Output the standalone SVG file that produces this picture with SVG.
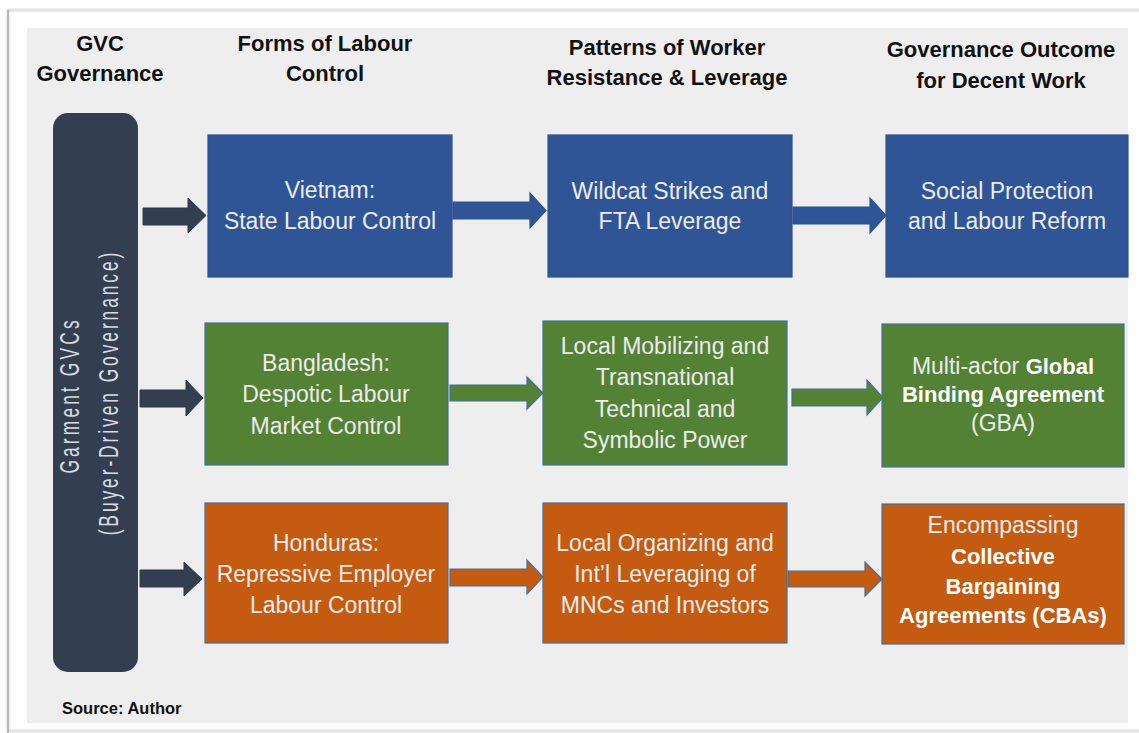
<svg xmlns="http://www.w3.org/2000/svg" width="1139" height="733" viewBox="0 0 1139 733">
  <defs>
    <style>
      .hdr { font-family: "Liberation Sans", Arial, sans-serif; font-weight: bold; font-size: 22px; fill: #111111; text-anchor: middle; }
      .lbl { font-family: "Liberation Sans", Arial, sans-serif; font-size: 23px; fill: #ececec; text-anchor: middle; }
      .lbl .b { font-weight: bold; font-size: 22px; fill: #ffffff; }
      .vt { font-family: "Liberation Sans", Arial, sans-serif; font-size: 28px; fill: #d7dbe1; text-anchor: middle; }
      .src { font-family: "Liberation Sans", Arial, sans-serif; font-weight: bold; font-size: 16.5px; fill: #111111; }
      .blue { fill: #2f5597; stroke: #2f528f; stroke-width: 1.2; }
      .green { fill: #548235; stroke: #41719c; stroke-width: 1.2; }
      .orange { fill: #c55a11; stroke: #41719c; stroke-width: 1.2; }
      .slate { fill: #333f50; stroke: #2f3b4c; stroke-width: 1; }
    </style>
    <filter id="edge" x="-5%" y="-5%" width="110%" height="110%">
      <feGaussianBlur stdDeviation="1.2"/>
    </filter>
  </defs>

  <!-- page and frame -->
  <rect x="0" y="0" width="1139" height="733" fill="#ffffff"/>
  <rect x="8" y="10" width="1160" height="721" fill="none" stroke="#cfcfcf" stroke-width="2" filter="url(#edge)"/>
  <line x1="8" y1="10" x2="8" y2="733" stroke="#a8a8a8" stroke-width="1.5"/>
  <rect x="27" y="28" width="1101" height="695" fill="#eeeeee"/>

  <!-- column headings -->
  <g id="headings">
    <text class="hdr" x="100" y="51">GVC</text>
    <text class="hdr" x="100" y="81">Governance</text>
    <text class="hdr" x="325" y="51">Forms of Labour</text>
    <text class="hdr" x="325" y="81">Control</text>
    <text class="hdr" x="667" y="55">Patterns of Worker</text>
    <text class="hdr" x="667" y="85">Resistance &amp; Leverage</text>
    <text class="hdr" x="1001" y="57">Governance Outcome</text>
    <text class="hdr" x="1001" y="88">for Decent Work</text>
  </g>

  <!-- governance bar -->
  <g id="gvc-bar">
    <rect x="53" y="113" width="85" height="559" rx="15" fill="#333f50"/>
    <text class="vt" transform="translate(79,397) rotate(-90) scale(0.62,1)" textLength="247" lengthAdjust="spacing">Garment GVCs</text>
    <text class="vt" transform="translate(118,394) rotate(-90) scale(0.62,1)" textLength="456" lengthAdjust="spacing">(Buyer-Driven Governance)</text>
  </g>

  <!-- connectors -->
  <g id="connectors">
    <polygon class="slate" points="143,208 188,208 188,198 206,215.5 188,233 188,225 143,225"/>
    <polygon class="slate" points="140,390 186,390 186,380 203,398 186,416 186,407 140,407"/>
    <polygon class="slate" points="140,570 184,570 184,562 202,579 184,596 184,587 140,587"/>

    <polygon class="blue" points="453,202 530,202 530,193 546,210.5 530,228 530,219 453,219"/>
    <polygon class="blue" points="793,207 870,207 870,198 886,215.5 870,233 870,224 793,224"/>

    <polygon class="green" points="450,385 527,385 527,377 543,393 527,409 527,401 450,401"/>
    <polygon class="green" points="792,389 867,389 867,380 883,397.5 867,415 867,406 792,406"/>

    <polygon class="orange" points="450,569 527,569 527,560 543,577 527,594 527,586 450,586"/>
    <polygon class="orange" points="788,571 865,571 865,562 882,579 865,596 865,587 788,587"/>
  </g>

  <!-- Vietnam row -->
  <g id="vn-control">
    <rect class="blue" x="208" y="135" width="244" height="142"/>
    <text class="lbl" x="330" y="198">Vietnam:</text>
    <text class="lbl" x="330" y="229">State Labour Control</text>
  </g>
  <g id="vn-resistance">
    <rect class="blue" x="548" y="135" width="244" height="142"/>
    <text class="lbl" x="670" y="199">Wildcat Strikes and</text>
    <text class="lbl" x="670" y="229">FTA Leverage</text>
  </g>
  <g id="vn-outcome">
    <rect class="blue" x="886" y="135" width="242" height="142"/>
    <text class="lbl" x="1007" y="199">Social Protection</text>
    <text class="lbl" x="1007" y="229">and Labour Reform</text>
  </g>

  <!-- Bangladesh row -->
  <g id="bd-control">
    <rect class="green" x="205" y="323" width="243" height="142"/>
    <text class="lbl" x="326" y="371">Bangladesh:</text>
    <text class="lbl" x="326" y="402">Despotic Labour</text>
    <text class="lbl" x="326" y="434">Market Control</text>
  </g>
  <g id="bd-resistance">
    <rect class="green" x="543" y="321" width="244" height="144"/>
    <text class="lbl" x="665" y="354">Local Mobilizing and</text>
    <text class="lbl" x="665" y="385">Transnational</text>
    <text class="lbl" x="665" y="417">Technical and</text>
    <text class="lbl" x="665" y="448">Symbolic Power</text>
  </g>
  <g id="bd-outcome">
    <rect class="green" x="882" y="324" width="242" height="143"/>
    <text class="lbl" x="1003" y="374">Multi-actor <tspan class="b">Global</tspan></text>
    <text class="lbl" x="1003" y="402"><tspan class="b">Binding Agreement</tspan></text>
    <text class="lbl" x="1003" y="431">(GBA)</text>
  </g>

  <!-- Honduras row -->
  <g id="hn-control">
    <rect class="orange" x="205" y="503" width="243" height="140"/>
    <text class="lbl" x="326" y="551">Honduras:</text>
    <text class="lbl" x="326" y="582">Repressive Employer</text>
    <text class="lbl" x="326" y="613">Labour Control</text>
  </g>
  <g id="hn-resistance">
    <rect class="orange" x="543" y="503" width="244" height="140"/>
    <text class="lbl" x="665" y="551">Local Organizing and</text>
    <text class="lbl" x="665" y="582">Int’l Leveraging of</text>
    <text class="lbl" x="665" y="613">MNCs and Investors</text>
  </g>
  <g id="hn-outcome">
    <rect class="orange" x="882" y="504" width="242" height="140"/>
    <text class="lbl" x="1003" y="533">Encompassing</text>
    <text class="lbl" x="1003" y="564"><tspan class="b">Collective</tspan></text>
    <text class="lbl" x="1003" y="594"><tspan class="b">Bargaining</tspan></text>
    <text class="lbl" x="1003" y="623"><tspan class="b">Agreements (CBAs)</tspan></text>
  </g>

  <text class="src" x="62" y="714">Source: Author</text>
</svg>
